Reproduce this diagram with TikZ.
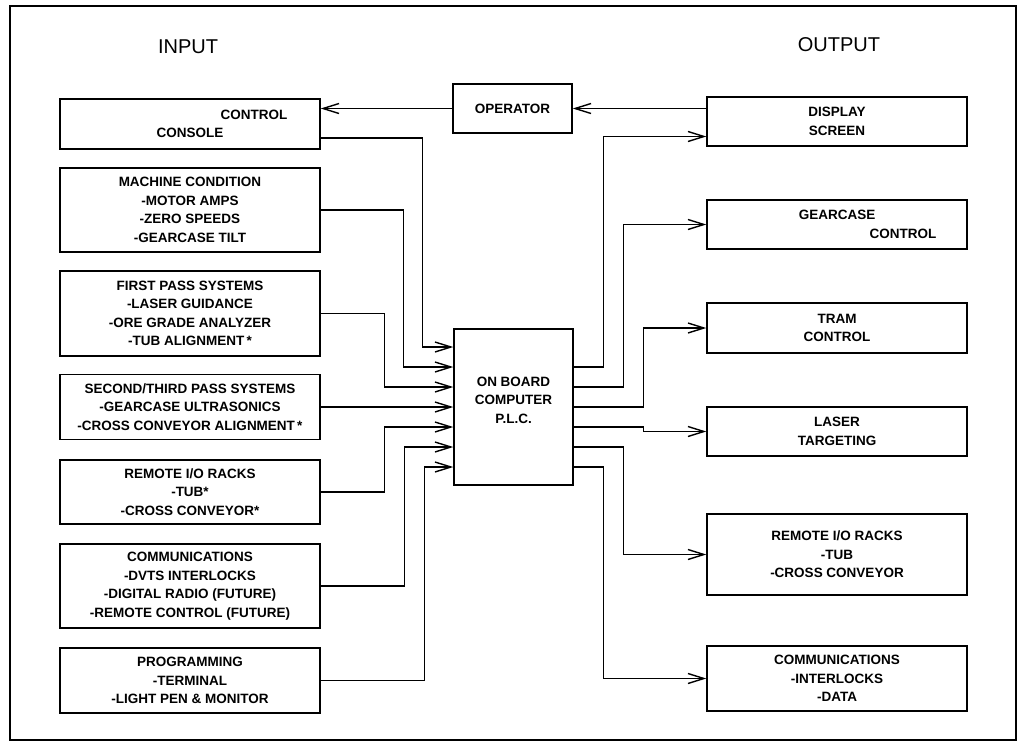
\documentclass[tikz,border=0pt]{standalone}
\usepackage{fontspec}
\setmainfont{Liberation Sans}
\usetikzlibrary{arrows.meta}
\begin{document}
\begin{tikzpicture}[x=1pt,y=-1pt,
        box/.style={draw,line width=1.4pt,minimum width=260pt,inner sep=0pt,align=center,font=\bfseries\fontsize{13.5}{18.5}\selectfont},
        arr/.style={line width=1.4pt,-{Straight Barb[length=16pt,width=10pt]}},
        hd/.style={font=\fontsize{20}{24}\selectfont}]
    \useasboundingbox (0,0) rectangle (1022,744);
    \draw[line width=1.2pt] (10,6) rectangle (1016,740);
    \node[hd] (inhd) at (188,47) {INPUT};
    \node[hd] (outhd) at (839,45) {OUTPUT};
    % input side
    \node[box,minimum height=50pt] (console) at (190,124) {\hspace*{128pt}CONTROL\\CONSOLE};
    \foreach \n/\y/\h/\t in {machine/210/84/{MACHINE CONDITION\\-MOTOR AMPS\\-ZERO SPEEDS\\-GEARCASE TILT},
            firstpass/313.5/85/{FIRST PASS SYSTEMS\\-LASER GUIDANCE\\-ORE GRADE ANALYZER\\-TUB ALIGNMENT\,*},
            secondpass/407/65/{SECOND/THIRD PASS SYSTEMS\\-GEARCASE ULTRASONICS\\-CROSS CONVEYOR ALIGNMENT\,*},
            remotein/492/64/{REMOTE I/O RACKS\\-TUB*\\-CROSS CONVEYOR*},
            commsin/586/84/{COMMUNICATIONS\\-DVTS INTERLOCKS\\-DIGITAL RADIO (FUTURE)\\-REMOTE CONTROL (FUTURE)},
            program/680.5/65/{PROGRAMMING\\-TERMINAL\\-LIGHT PEN \& MONITOR}} {
        \node[box,minimum height=\h pt] (\n) at (190,\y) {\t};
    }
    % centre
    \node[box,minimum width=119pt,minimum height=49pt] (operator) at (512.5,108.5) {OPERATOR};
    \node[box,minimum width=119pt,minimum height=156pt] (plc) at (513.5,407) {ON BOARD\\COMPUTER\\P.L.C.\\[-4.5pt]\mbox{}};
    % output side
    \foreach \n/\y/\h/\t in {display/121.5/49/{DISPLAY\\SCREEN},
            gearcase/224.5/49/{GEARCASE\\\hspace*{132pt}CONTROL},
            tram/328/50/{TRAM\\CONTROL},
            laser/431.5/49/{LASER\\TARGETING},
            remoteout/554.5/81/{REMOTE I/O RACKS\\-TUB\\-CROSS CONVEYOR},
            commsout/678.5/65/{COMMUNICATIONS\\-INTERLOCKS\\-DATA}} {
        \node[box,minimum height=\h pt] (\n) at (837,\y) {\t};
    }
    \foreach \k in {1,...,7} \coordinate (in\k) at ([yshift={(80-20*\k)*1pt}]plc.west);
    \foreach \k in {1,...,6} \coordinate (out\k) at ([yshift={(60-20*\k)*1pt}]plc.east);
    % connectors
    \draw[arr] (operator.east -| display.west) -- (operator.east);
    \draw[arr] (operator.west) -- (operator.west -| console.east);
    \draw[arr] ([yshift=-14pt]console.east) -| ([xshift=-31pt]in1) -- (in1);
    \foreach \n/\k/\d in {machine/2/50,firstpass/3/69,remotein/5/69,commsin/6/49,program/7/29}
        \draw[arr] (\n.east) -| ([xshift=-\d pt]in\k) -- (in\k);
    \draw[arr] (secondpass.east) -- (in4);
    \draw[arr] (out1) -- ++(30,0) |- ([yshift=-15pt]display.west);
    \foreach \k/\d/\n in {2/50/gearcase,3/70/tram,4/70/laser,5/50/remoteout,6/30/commsout}
        \draw[arr] (out\k) -- ++(\d,0) |- (\n.west);
\end{tikzpicture}
\end{document}
